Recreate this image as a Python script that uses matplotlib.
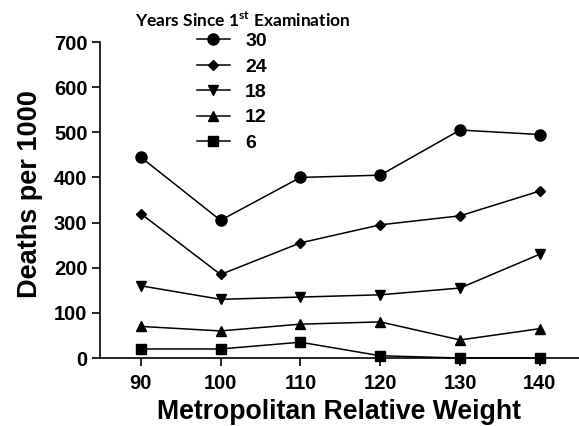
import matplotlib.pyplot as plt

# Data
weights = [90, 100, 110, 120, 130, 140]
years = ['30', '24', '18', '12', '6']
deaths_30 = [445, 305, 400, 405, 505, 495]
deaths_24 = [320, 185, 255, 295, 315, 370]
deaths_18 = [160, 130, 135, 140, 155, 230]
deaths_12 = [70, 60, 75, 80, 40, 65]
deaths_6 = [20, 20, 35, 5, 0, 0]

series = [deaths_30, deaths_24, deaths_18, deaths_12, deaths_6]
markers = ['o', 'D', 'v', '^', 's']
sizes = [8, 5.5, 7.5, 7.5, 7.5]

plt.rcParams['font.family'] = ['Liberation Sans', 'DejaVu Sans']

fig = plt.figure(figsize=(5.79, 4.26), dpi=100)
ax = fig.add_axes([0.1727, 0.1596, 0.8273, 0.7418])

for vals, lab, m, ms in zip(series, years, markers, sizes):
    ax.plot(weights, vals, color='black', lw=1.1, marker=m, markersize=ms,
            label=lab, clip_on=False)

ax.set_xlim(84.9, 144.9)
ax.set_ylim(0, 700)
ax.set_xticks(weights)
ax.set_yticks(range(0, 701, 100))
ax.spines['top'].set_visible(False)
ax.spines['right'].set_visible(False)
ax.spines['left'].set_linewidth(1.2)
ax.spines['bottom'].set_linewidth(1.2)
ax.tick_params(direction='out', length=5.5, width=1.2, labelsize=14.5)
ax.tick_params(axis='x', pad=6)
for t in ax.get_xticklabels() + ax.get_yticklabels():
    t.set_fontweight('bold')

ax.set_xlabel('Metropolitan Relative Weight', fontsize=19.2, fontweight='bold', labelpad=4)
ax.set_ylabel('Deaths per 1000', fontsize=19.5, fontweight='bold')
ax.yaxis.set_label_coords(-0.12, 0.52)

fig.text(135 / 579, 1 - 20 / 426, 'Years Since 1$^{\\mathregular{st}}$ Examination',
         fontsize=12.5, fontweight='bold', family=['Lato', 'DejaVu Sans'],
         ha='left', va='center')
ax.legend(loc='upper left', bbox_to_anchor=(0.165, 1.085), frameon=False,
          prop={'weight': 'bold', 'size': 14}, handlelength=1.7,
          labelspacing=0.4, handletextpad=0.8)

plt.savefig('out.png', dpi=100)
